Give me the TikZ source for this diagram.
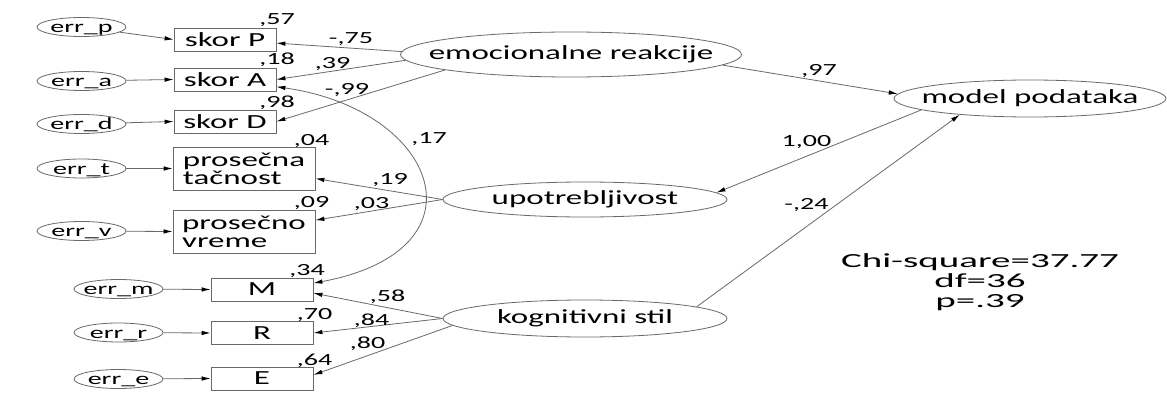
\documentclass[tikz,border=0pt]{standalone}
\usepackage{fontspec}
\setmainfont{Carlito}[FakeStretch=1.65]
\newfontfamily\statfamily{Carlito}[FakeStretch=1.95]
\usetikzlibrary{shapes.geometric,arrows.meta}
\newcommand\mainsz{\fontsize{20}{18}\selectfont}
\newcommand\smallsz{\fontsize{17}{17}\selectfont}
\newcommand\statsz{\statfamily\fontsize{20}{20}\selectfont}
\definecolor{edgegray}{RGB}{105,105,105}
\begin{document}
\begin{tikzpicture}[x=1pt,y=-1pt,
  obsbox/.style={draw=edgegray, line width=0.8pt, minimum width=102pt,
    minimum height=23pt, inner sep=0pt, font=\mainsz},
  obswide/.style={obsbox, minimum width=142pt, minimum height=43pt, align=left},
  errnode/.style={ellipse, draw=edgegray, line width=0.8pt, minimum width=89pt,
    minimum height=19pt, inner sep=0pt,
    label={[font=\smallsz, inner sep=0pt, text height=11pt, text depth=0pt]center:#1}},
  latent/.style={ellipse, draw=edgegray, line width=0.8pt, inner sep=0pt,
    label={[font=\mainsz]center:#1}},
  link/.style={draw=edgegray, line width=0.8pt,
    -{Latex[length=9pt,width=4.5pt,color=black]}},
  covlink/.style={draw=edgegray, line width=0.8pt,
    {Latex[length=9pt,width=4.5pt,color=black]}-{Latex[length=9pt,width=4.5pt,color=black]}},
  coef/.style={font=\smallsz, inner sep=0pt, anchor=base},
  stat/.style={font=\statsz, inner sep=0pt, anchor=base}]

\fill[white] (0,0) rectangle (1167,396);
\useasboundingbox (0,0) rectangle (1167,396);

% observed indicators
\node[obsbox] (skorP) at (225,39.5) {skor P};
\node[obsbox] (skorA) at (225,79.5) {skor A};
\node[obsbox] (skorD) at (225,121.5) {skor D};
\node[obswide] (tacn) at (244,168.5) {prosečna\\tačnost};
\node[obswide] (vrem) at (244,231.5) {prosečno\\vreme};
\node[obsbox] (M) at (262,289.5) {M};
\node[obsbox] (R) at (262,333) {R};
\node[obsbox] (E) at (262,378.5) {E};

% error terms
\node[errnode=err\_p] (ep) at (81.5,27) {};
\node[errnode=err\_a] (ea) at (81.5,81) {};
\node[errnode=err\_d] (ed) at (81.5,124) {};
\node[errnode=err\_t] (et) at (81.5,168.5) {};
\node[errnode=err\_v] (ev) at (81.5,231) {};
\node[errnode=err\_m] (em) at (118.5,289) {};
\node[errnode=err\_r] (er) at (118.5,332.5) {};
\node[errnode=err\_e] (ee) at (118.5,379) {};

% latent factors
\node[latent=emocionalne reakcije, minimum width=341pt, minimum height=45pt] (emo) at (571,54.5) {};
\node[latent=upotrebljivost, minimum width=284pt, minimum height=35pt] (upo) at (585,199.5) {};
\node[latent=kognitivni stil, minimum width=284pt, minimum height=37pt] (kog) at (585,318.5) {};
\node[latent=model podataka, minimum width=272pt, minimum height=37pt] (model) at (1030,98.5) {};

% error paths
\draw[link] (ep) -- (skorP.west);
\draw[link] (ea) -- (skorA.west);
\draw[link] (ed) -- (skorD.west);
\draw[link] (et) -- (tacn.west);
\draw[link] (ev) -- (vrem.west);
\draw[link] (em) -- (M.west);
\draw[link] (er) -- (R.west);
\draw[link] (ee) -- (E.west);

% loadings
\draw[link] (emo.179) -- (skorP.-4);
\draw[link] (emo.182) -- (skorA.east);
\draw[link] (emo.187) -- (skorD.east);
\draw[link] (upo.west) -- (tacn.-8);
\draw[link] (upo.west) -- (vrem.9);
\draw[link] (kog.west) -- (M.-4);
\draw[link] (kog.west) -- (R.east);
\draw[link] (kog.183) -- (E.4);
\draw[link] (emo.-4) -- (model.178);
\draw[link] (model.186) -- (upo.3);
\draw[link] (kog.6) -- (model.193);

% covariance
\draw[covlink] (skorA.-8) .. controls +(162,23) and +(177,-33) .. (M.7);

% squared multiple correlations
\node[coef] (r57) at (277,25) {,57};
\node[coef] (r18) at (277,65) {,18};
\node[coef] (r98) at (277,107) {,98};
\node[coef] (r04) at (311.5,145) {,04};
\node[coef] (r09) at (311.5,207) {,09};
\node[coef] (r34) at (307,275) {,34};
\node[coef] (r70) at (314.5,319) {,70};
\node[coef] (r64) at (314.5,365) {,64};

% path coefficients
\node[coef] (c75) at (351,44) {-,75};
\node[coef] (c39) at (332.5,69) {,39};
\node[coef] (c99) at (347,94) {-,99};
\node[coef] (c17) at (429,143) {,17};
\node[coef] (c19) at (390,184) {,19};
\node[coef] (c03) at (371.5,208) {,03};
\node[coef] (c58) at (387.5,301.5) {,58};
\node[coef] (c84) at (371.5,325) {,84};
\node[coef] (c80) at (367.5,348) {,80};
\node[coef] (c97) at (819,76) {,97};
\node[coef] (c100) at (806.5,146) {1,00};
\node[coef] (c24) at (806.5,209) {-,24};

% fit statistics
\node[stat] (chi) at (980,267) {Chi-square=37.77};
\node[stat] (dfv) at (980,287) {df=36};
\node[stat] (pv) at (980,307) {p=.39};
\end{tikzpicture}
\end{document}
